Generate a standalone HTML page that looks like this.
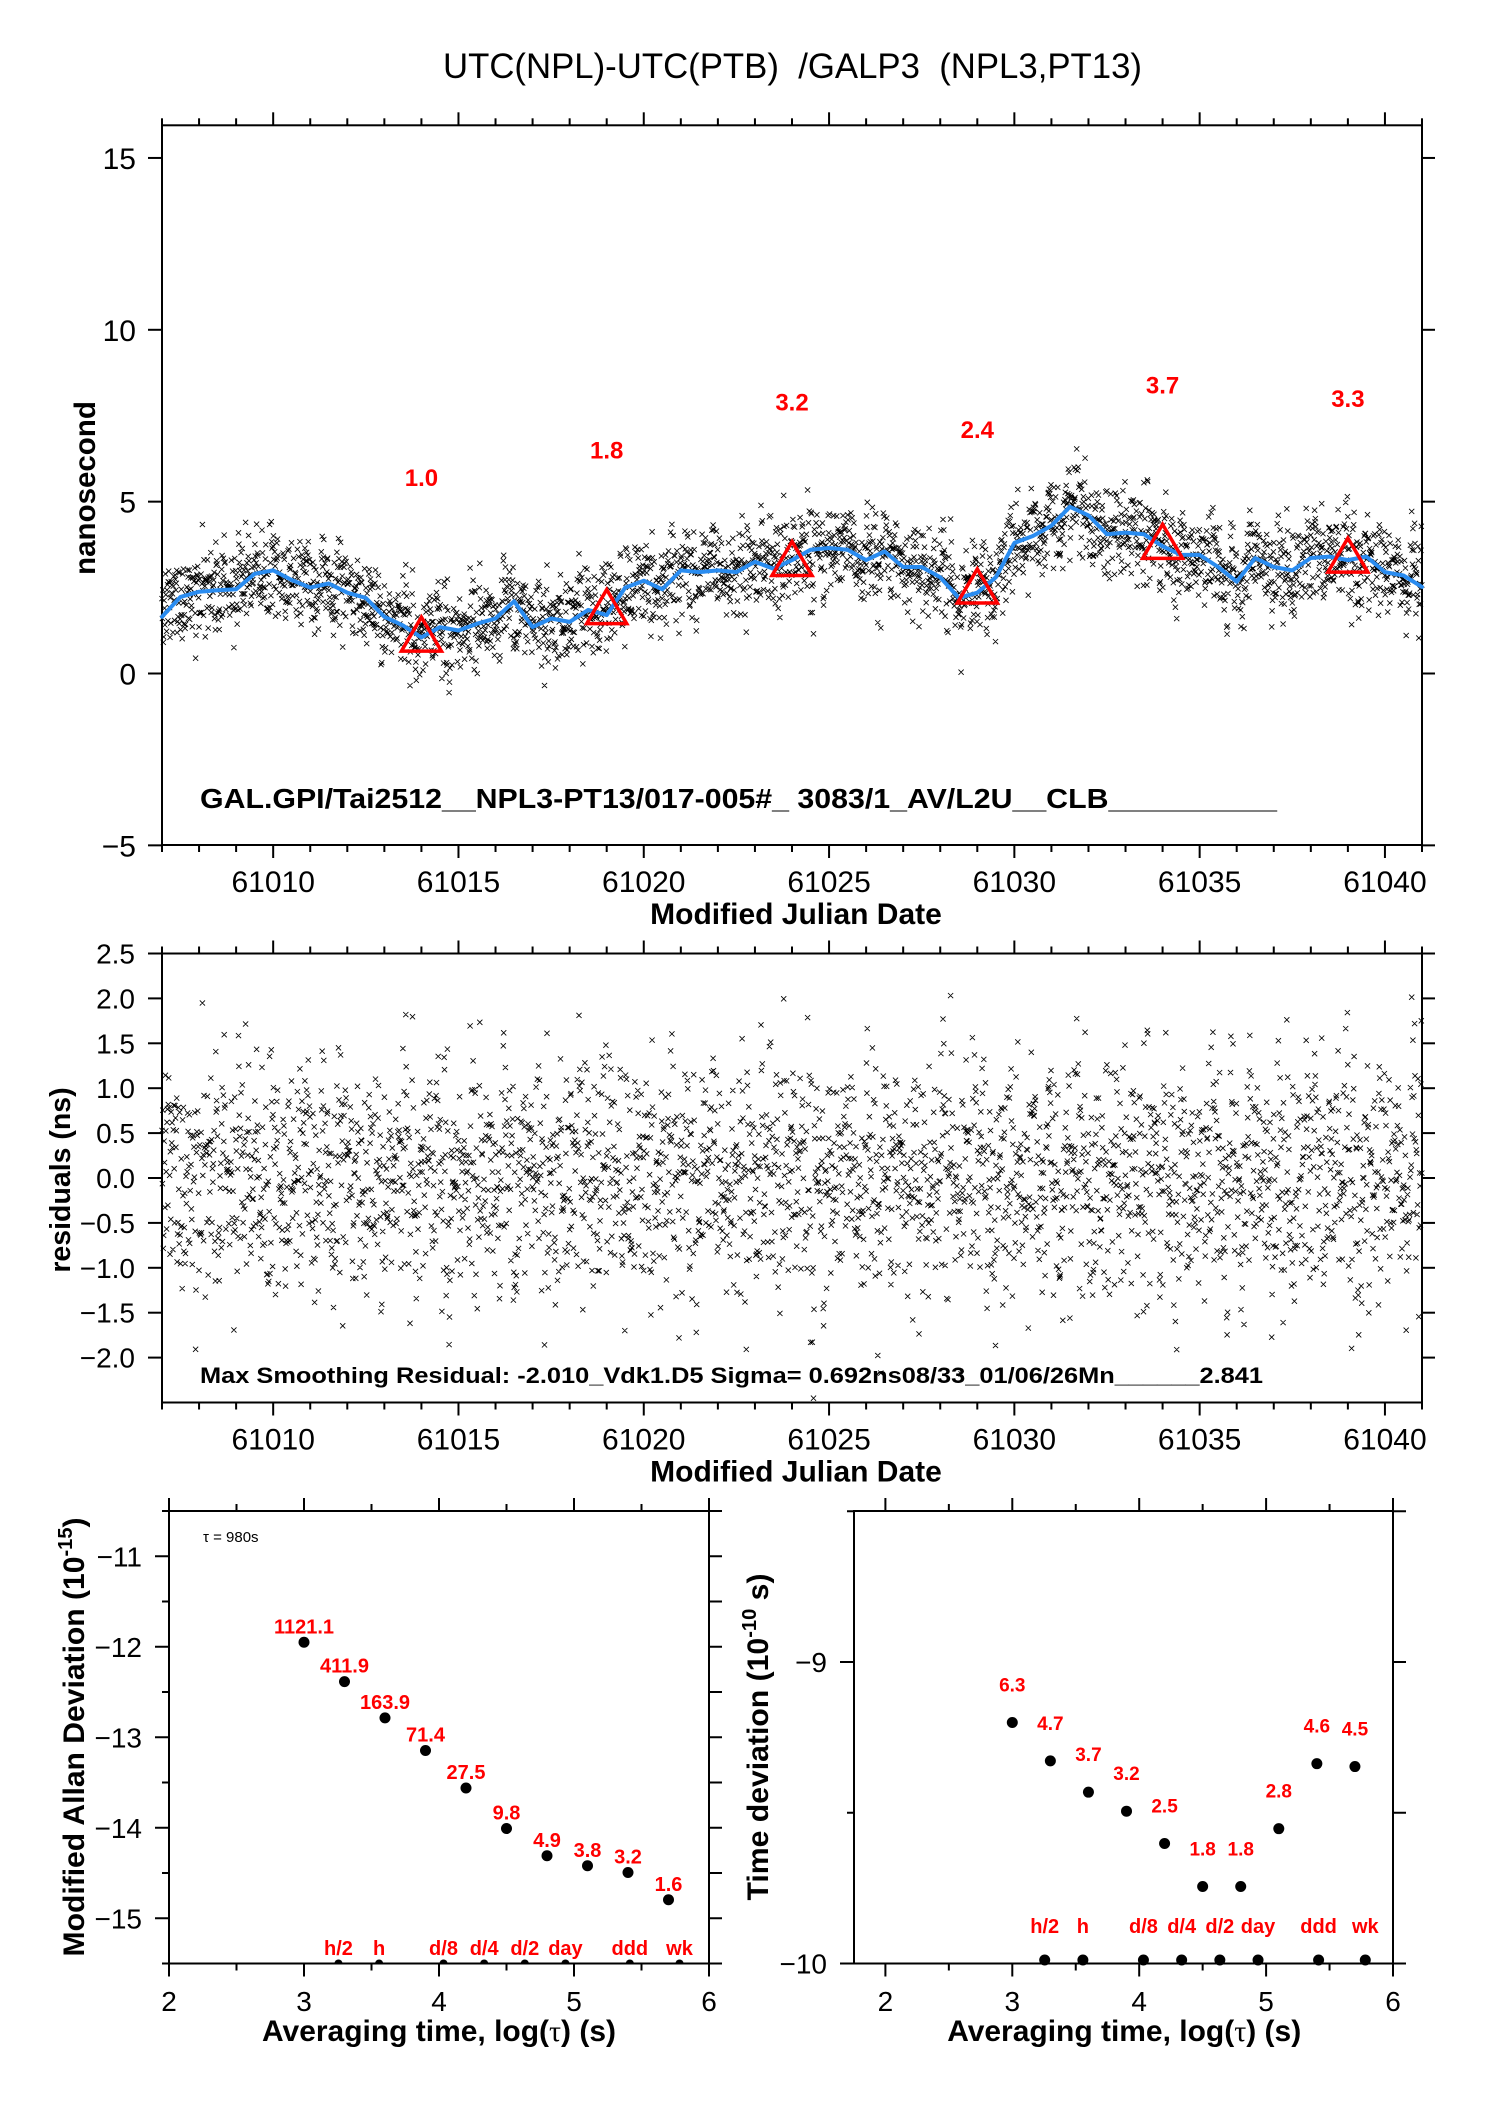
<!DOCTYPE html>
<html><head><meta charset="utf-8"><style>
html,body{margin:0;padding:0;background:#fff;}
svg{display:block;font-family:"Liberation Sans",Arial,sans-serif;}
</style></head><body>
<svg id="fig" xmlns="http://www.w3.org/2000/svg" width="1488" height="2105" viewBox="0 0 1488 2105">
<rect width="1488" height="2105" fill="#fff"/>
<text x="443" y="78" font-size="35" textLength="699" lengthAdjust="spacingAndGlyphs" xml:space="preserve">UTC(NPL)-UTC(PTB)  /GALP3  (NPL3,PT13)</text>
<g id="g"></g>
</svg>
<script>
// ---- data ----
const curveStart = 61007;
const curveStep = 0.5;
const curveValues = [1.65,2.23,2.38,2.42,2.45,2.9,3.0,2.72,2.5,2.62,2.35,2.2,1.65,1.4,1.05,1.35,1.25,1.45,1.6,2.1,1.35,1.6,1.5,1.85,1.7,2.5,2.7,2.45,3.0,2.95,3.0,2.95,3.25,3.05,3.3,3.6,3.65,3.6,3.3,3.55,3.1,3.1,2.8,2.2,2.35,2.8,3.8,4.0,4.3,4.85,4.6,4.05,4.1,4.05,3.7,3.45,3.45,3.1,2.67,3.36,3.1,3.0,3.36,3.4,3.3,3.4,2.95,2.85,2.52];
const triMJD = [61014,61019,61024,61029,61034,61039];
const triValues = [1.0,1.8,3.2,2.4,3.7,3.3];
const residuals = [0.32,-0.45,0.71,-1.12,0.05,0.88,-0.27,-0.63,1.24,0.14,-0.91,0.42,-0.08,0.57,-1.45,0.23,0.96,-0.36,-0.72,0.11,1.51,-0.19,0.38,-0.84,0.67,-0.02,-1.28,0.49,0.81,-0.55,0.18,-0.97,1.08,-0.31,0.26,-0.66,1.83,-0.12,0.53,-1.04,0.09,0.74,-0.41,-1.62,0.35,0.92,-0.23,0.61,-0.78,0.16,1.33,-0.51,-0.05,0.44,-1.19,0.72,-0.29,0.03,1.02,-0.87,0.29,-0.58,0.85,-1.36,0.12,0.46,-0.15,-0.94,1.17,0.21,-0.69,0.58,-0.34,1.65,-0.09,-1.07,0.39,0.77,-0.47,0.07,-1.88,0.63,-0.21,0.99,-0.62,0.31,1.41,-0.39,-0.81,0.19,0.55,-1.23,0.83,-0.11,0.27,-0.52,1.96,-0.74,0.08,-0.33,0.69,-1.51,0.43,-0.06,0.94,-0.44,0.15,-0.99,1.21,0.37,-0.59,-0.17,0.79,-1.16,0.24,0.51,-0.83,-0.26,1.12,-0.43,0.04,-1.71,0.66,0.33,-0.64,0.89,-0.14,-1.32,0.47,0.13,-0.48,1.29,-0.71,0.22,-0.04,0.76,-1.02,0.59,-0.37,1.47,-0.25,-0.88,0.34,0.02,-0.57,0.97,-1.41,0.28,0.65,-0.18,-2.01,0.41,-0.76,1.05,0.17,-0.46,0.54,-0.95,0.86,-0.13];
const sampleSeconds = 980;
const mjdTicks = [61010,61015,61020,61025,61030,61035,61040];
const topYTicks = [-5,0,5,10,15];
const resYTicks = [-2.0,-1.5,-1.0,-0.5,0.0,0.5,1.0,1.5,2.0,2.5];
const adevLogTau = [3.0,3.3,3.6,3.9,4.2,4.5,4.8,5.1,5.4,5.7];
const adevValues = [1121.1,411.9,163.9,71.4,27.5,9.8,4.9,3.8,3.2,1.6];
const tdevLogTau = [3.0,3.3,3.6,3.9,4.2,4.5,4.8,5.1,5.4,5.7];
const tdevValues = [6.3,4.7,3.7,3.2,2.5,1.8,1.8,2.8,4.6,4.5];
const markerLabels = ["h/2","h","d/8","d/4","d/2","day","ddd","wk"];
const markerSeconds = [1800,3600,10800,21600,43200,86400,259200,604800];
const logTicks = [2,3,4,5,6];
const adevYTicks = [-11,-12,-13,-14,-15];
const tdevYTicks = [-9,-10];

const NS = "http://www.w3.org/2000/svg";
const G = document.getElementById('g');
function mk(tag, attrs, parent, txt){
  const e = document.createElementNS(NS, tag);
  for (const k in attrs) e.setAttribute(k, attrs[k]);
  if (txt !== undefined) e.textContent = txt;
  (parent||G).appendChild(e);
  return e;
}
function fmtNum(v, d){ const s = v.toFixed(d); return s.replace('-', '\u2212'); }

// ---- axes ----
const X0 = 162, X1 = 1422, MJD0 = 61007, MJD1 = 61041;
const RES_TOP = 953.5, RES_BOT = 1402.5;
const xM = m => X0 + (m - MJD0) / (MJD1 - MJD0) * (X1 - X0);
const yTop = v => 673.5 - v * 34.37;
const yRes = v => RES_BOT - (v + 2.5) * (RES_BOT - RES_TOP) / 5;
const yAd = v => 1963.5 - (v + 15.5) * 90.5;
const xAd = v => 169 + (v - 2) * 135;
const yTd = v => 1963.5 - (v + 10) * 301.5;
const xTd = v => 885.4 + (v - 2) * 126.9;

function curveAt(m){
  const f = (m - curveStart) / curveStep;
  const i = Math.max(0, Math.min(curveValues.length - 2, Math.floor(f)));
  const t = Math.max(0, Math.min(1, f - i));
  return curveValues[i] * (1 - t) + curveValues[i + 1] * t;
}

function frame(x0, y0, x1, y1, name){
  const r = mk('rect', {x:x0, y:y0, width:x1-x0, height:y1-y0, fill:'none', stroke:'#000', 'stroke-width':2});
  
  
}
function line(x1,y1,x2,y2,w,parent){ return mk('line',{x1,y1,x2,y2,stroke:'#000','stroke-width':w||2},parent); }

function mjdAxes(top, bottom, prefix){
  const g = mk('g', {});
  
  
  for (let d = MJD0; d <= MJD1; d++){
    const x = xM(d);
    const major = (d % 5 === 0);
    const L = major ? 13 : 7;
    line(x, top, x, top - L, 2, g);
    line(x, bottom, x, bottom + L, 2, g);
  }
  mjdTicks.forEach(m => {
    const t = mk('text', {x:xM(m), y:bottom + 47, 'font-size':30, 'text-anchor':'middle'}, g, String(m));
    
    
  });
  const xl = mk('text', {x:796, y:bottom + 79, 'font-size':30, 'font-weight':'bold', 'text-anchor':'middle'}, g, 'Modified Julian Date');
  
  
}

function crossPath(pts){
  let d = '';
  for (const [x,y] of pts){
    d += `M${(x-2.6).toFixed(1)} ${(y-2.6).toFixed(1)}l5.2 5.2M${(x-2.6).toFixed(1)} ${(y+2.6).toFixed(1)}l5.2 -5.2`;
  }
  return d;
}

// ===== TOP PLOT =====
frame(X0, 125.3, X1, 845, 'time-series-plot-frame');
mjdAxes(125.3, 845, 'top');
{
  const g = mk('g', {});
  
  
  topYTicks.forEach(v => {
    const y = yTop(v);
    line(X0 - 14, y, X0, y, 2, g);
    line(X1, y, X1 + 13, y, 2, g);
    const t = mk('text', {x:136, y:y + 11, 'font-size':30, 'text-anchor':'end'}, g, fmtNum(v, 0));
    
    
  });
  const yl = mk('text', {x:0, y:0, 'font-size':29.5, 'font-weight':'bold', 'text-anchor':'middle', transform:'translate(95,488) rotate(-90)'}, g, 'nanosecond');
  
  
}

// scatter
const N = residuals.length;
const topPts = [], resPts = [];
const stepDays = sampleSeconds / 86400;
for (let i = 0; ; i++){
  const m = MJD0 + i * stepDays;
  if (m > MJD1) break;
  const a = residuals[(i * 61) % N];
  const b = residuals[(Math.floor(i * 0.37) * 29 + 13) % N];
  const r = 0.66 * a + 0.56 * b;
  topPts.push([xM(m), yTop(curveAt(m) + r)]);
  resPts.push([xM(m), yRes(r)]);
}
const sc = mk('path', {d:crossPath(topPts), stroke:'#000', 'stroke-width':0.85, fill:'none'});



// smooth curve
{
  let d = '';
  curveValues.forEach((v, i) => {
    const x = xM(curveStart + i * curveStep), y = yTop(v);
    d += (i ? 'L' : 'M') + x.toFixed(1) + ' ' + y.toFixed(1);
  });
  const p = mk('path', {d, stroke:'#2a8cf0', 'stroke-width':4, fill:'none', 'stroke-linejoin':'round', 'stroke-linecap':'round'});
  
  
}
// triangles
triMJD.forEach((m, i) => {
  const x = xM(m), y = yTop(triValues[i]);
  const t = mk('path', {d:`M${x} ${y-22}L${x+20} ${y+12}L${x-20} ${y+12}Z`, stroke:'#f00', 'stroke-width':3.5, fill:'none'});
  
  
  const l = mk('text', {x, y:yTop(triValues[i] + 4.45), 'font-size':24, 'font-weight':'bold', fill:'#f00', 'text-anchor':'middle'}, G, triValues[i].toFixed(1));
  
  
});
{
  const t = mk('text', {x:200, y:808, 'font-size':28, 'font-weight':'bold', textLength:1077, lengthAdjust:'spacingAndGlyphs'}, G, 'GAL.GPI/Tai2512__NPL3-PT13/017-005#_  3083/1_AV/L2U__CLB__________');
  t.setAttribute('xml:space', 'preserve');
  
  
}

// ===== RESIDUAL PLOT =====
frame(X0, RES_TOP, X1, RES_BOT, 'residuals-plot-frame');
mjdAxes(RES_TOP, RES_BOT, 'residuals');
{
  const g = mk('g', {});
  
  
  resYTicks.forEach(v => {
    const y = yRes(v);
    line(X0 - 14, y, X0, y, 2, g);
    line(X1, y, X1 + 13, y, 2, g);
    const t = mk('text', {x:135, y:y + 10, 'font-size':28, 'text-anchor':'end'}, g, fmtNum(v, 1));
    
    
  });
  const yl = mk('text', {x:0, y:0, 'font-size':28.5, 'font-weight':'bold', 'text-anchor':'middle', transform:'translate(70,1180) rotate(-90)'}, g, 'residuals (ns)');
  
  
}
{
  const p = mk('path', {d:crossPath(resPts), stroke:'#000', 'stroke-width':0.85, fill:'none'});
  
  
  const t = mk('text', {x:200, y:1383, 'font-size':22, 'font-weight':'bold', textLength:1063, lengthAdjust:'spacingAndGlyphs'}, G, 'Max Smoothing Residual: -2.010_Vdk1.D5  Sigma= 0.692ns08/33_01/06/26Mn______2.841');
  t.setAttribute('xml:space', 'preserve');
  
  
}

// ===== STABILITY PLOTS =====
function stabPanel(opts){
  const {x0, x1, xf, yf, yTicks, yMin, yMax, name} = opts;
  const yTopPx = 1511, yBot = 1963.5;
  frame(x0, yTopPx, x1, yBot, name + '-frame');
  const g = mk('g', {});
  
  
  for (let v = 2; v <= 6.001; v += 0.5){
    const x = xf(v), maj = Math.abs(v - Math.round(v)) < 1e-6;
    line(x, yTopPx, x, yTopPx - (maj ? 13 : 7), 2, g);
    line(x, yBot, x, yBot + (maj ? 13 : 7), 2, g);
  }
  logTicks.forEach(v => {
    const t = mk('text', {x:xf(v), y:2011, 'font-size':28, 'text-anchor':'middle'}, g, String(v));
    
    
  });
  for (let v = yMin; v <= yMax + 1e-6; v += 0.5){
    const y = yf(v), maj = Math.abs(v - Math.round(v)) < 1e-6;
    line(x0 - (maj ? 14 : 7), y, x0, y, 2, g);
    line(x1, y, x1 + 13, y, 2, g);
  }
  yTicks.forEach(v => {
    const t = mk('text', {x:opts.labelX, y:yf(v) + 10, 'font-size':28, 'text-anchor':'end'}, g, fmtNum(v, 0));
    
    
  });
  const xl = mk('text', {x:(xf(2) + xf(6)) / 2 + opts.xlShift, y:2041, 'font-size':30, 'font-weight':'bold', 'text-anchor':'middle', textLength:354, lengthAdjust:'spacingAndGlyphs'}, g);
  
  
  xl.appendChild(document.createTextNode('Averaging time, log('));
  mk('tspan', {'font-family':'"Liberation Serif",serif', 'font-weight':'normal'}, xl, '\u03c4');
  xl.appendChild(document.createTextNode(') (s)'));
  return g;
}

// ADEV
stabPanel({x0:169, x1:709, xf:xAd, yf:yAd, yTicks:adevYTicks, yMin:-15.5, yMax:-10.5, labelX:142, name:'adev-plot', xlShift:0});
{
  const yl = mk('text', {x:0, y:0, 'font-size':30, 'font-weight':'bold', 'text-anchor':'middle', textLength:439, lengthAdjust:'spacingAndGlyphs', transform:'translate(84,1737) rotate(-90)'});
  
  
  yl.appendChild(document.createTextNode('Modified Allan Deviation (10'));
  mk('tspan', {'font-size':20, dy:-12}, yl, '-15');
  mk('tspan', {dy:12}, yl, ')');
  const tau = mk('text', {x:203, y:1542, 'font-size':15}, G, '\u03c4 = 980s');
  
  
}
adevLogTau.forEach((lt, i) => {
  const x = xAd(lt), y = yAd(Math.log10(adevValues[i]) - 15);
  const c = mk('circle', {cx:x, cy:y, r:5.5, fill:'#000'});
  
  
  const l = mk('text', {x, y:y - 9, 'font-size':20, 'font-weight':'bold', fill:'#f00', 'text-anchor':'middle'}, G, adevValues[i].toFixed(1));
  
  
});
markerSeconds.forEach((s, i) => {
  const x = xAd(Math.log10(s));
  const c = mk('path', {d:`M${x-4} 1963.5A4 4 0 0 1 ${x+4} 1963.5Z`, fill:'#000'});
  
  
  const l = mk('text', {x, y:1955, 'font-size':20, 'font-weight':'bold', fill:'#f00', 'text-anchor':'middle'}, G, markerLabels[i]);
  
  
});

// TDEV
stabPanel({x0:854, x1:1393, xf:xTd, yf:yTd, yTicks:tdevYTicks, yMin:-10, yMax:-8.5, labelX:827, name:'tdev-plot', xlShift:-15});
{
  const yl = mk('text', {x:0, y:0, 'font-size':30, 'font-weight':'bold', 'text-anchor':'middle', textLength:327, lengthAdjust:'spacingAndGlyphs', transform:'translate(768,1737) rotate(-90)'});
  
  
  yl.appendChild(document.createTextNode('Time deviation (10'));
  mk('tspan', {'font-size':20, dy:-12}, yl, '-10');
  mk('tspan', {dy:12}, yl, ' s)');
}
tdevLogTau.forEach((lt, i) => {
  const x = xTd(lt), y = yTd(Math.log10(tdevValues[i]) - 10);
  const c = mk('circle', {cx:x, cy:y, r:5.5, fill:'#000'});
  
  
  const l = mk('text', {x, y:y - 31, 'font-size':19, 'font-weight':'bold', fill:'#f00', 'text-anchor':'middle'}, G, tdevValues[i].toFixed(1));
  
  
});
markerSeconds.forEach((s, i) => {
  const x = xTd(Math.log10(s));
  const c = mk('circle', {cx:x, cy:1960, r:5.5, fill:'#000'});
  
  
  const l = mk('text', {x, y:1933, 'font-size':20, 'font-weight':'bold', fill:'#f00', 'text-anchor':'middle'}, G, markerLabels[i]);
  
  
});
</script>
</body></html>
